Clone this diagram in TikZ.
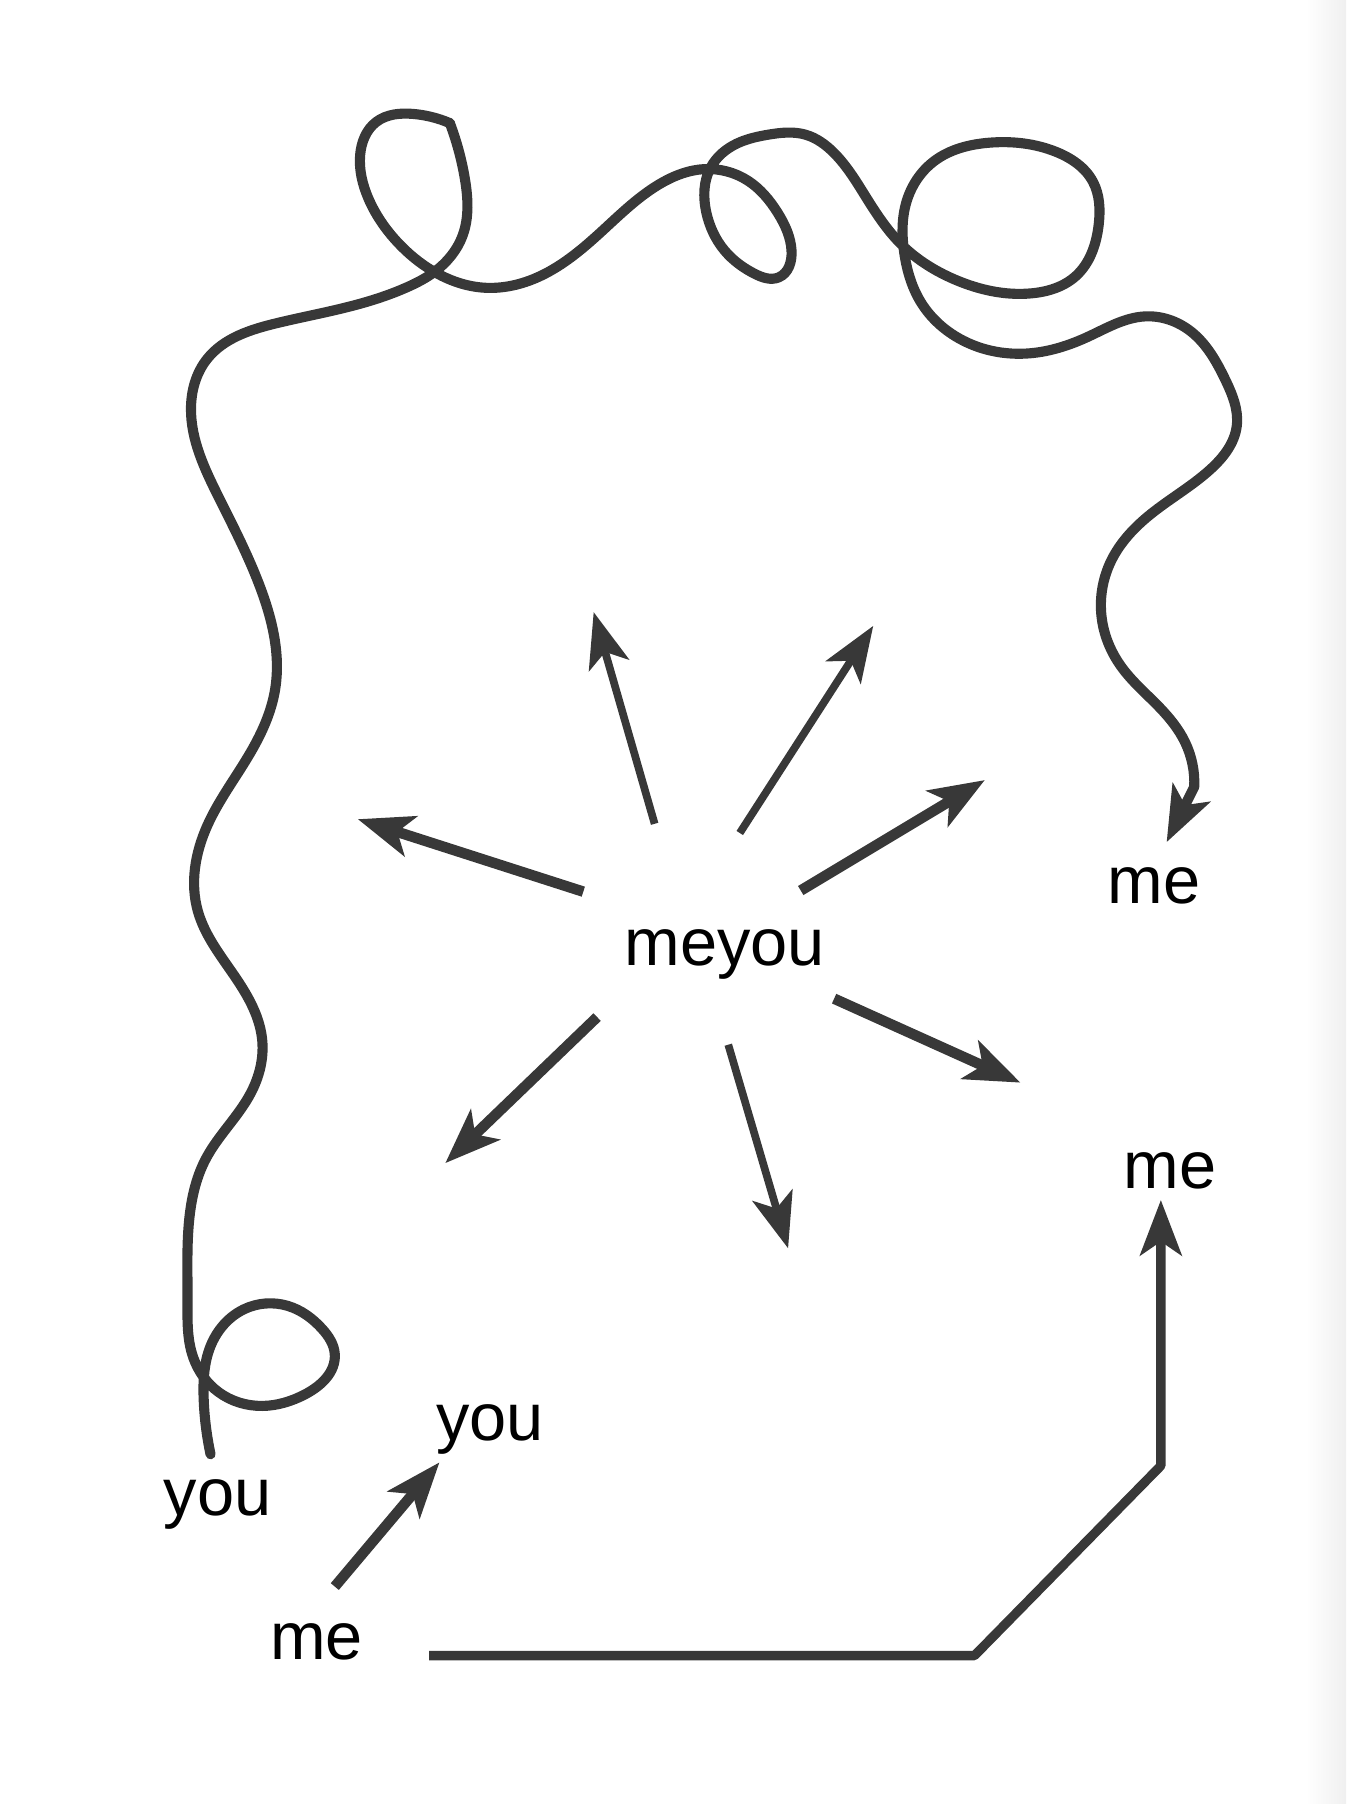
\documentclass[tikz,border=0pt]{standalone}
\usepackage{fontspec}
\setmainfont{Liberation Sans}
\usetikzlibrary{arrows.meta,hobby}

\tikzset{
  ink/.style={draw=black!78, line width=2.3pt, line cap=butt, line join=round},
  spike/.style={-{Stealth[length=0.48cm, width=0.36cm, inset=0.12cm]}},
  word/.style={anchor=base, inner sep=0pt, font=\fontsize{16.5}{20}\selectfont},
}

\begin{document}
\begin{tikzpicture}[x=0.01cm, y=-0.01cm]

\useasboundingbox (0,0) rectangle (1170,1568);
\shade[left color=white, right color=black!6] (1135,0) rectangle (1170,1568);

% labels
\node[word] (meyou) at (630,839) {meyou};
\node[word] (meright) at (1003,785) {me};
\node[word] (melower) at (1017,1033) {me};
\node[word] (youleft) at (189,1317) {you};
\node[word] (youtop) at (426,1252) {you};
\node[word] (mebottom) at (275,1442) {me};

% rays out of the middle
\foreach \i/\tx/\ty/\hx/\hy/\w in {
    1/569/716/516/532/1.9,
    2/643/724/759/544/1.9,
    3/696/774/856/678/2.6,
    4/507/775/311/712/2.6,
    5/725/868/887/941/2.6,
    6/519/884/387/1011/2.6,
    7/633/908/685/1085/1.9} {
    \coordinate (ray\i-s) at (\tx,\ty);
    \coordinate (ray\i-e) at (\hx,\hy);
    \draw[ink, spike, line width=\w pt] (ray\i-s) -- (ray\i-e);
}

% the long tangled line, you -> me
\coordinate (youend) at (183,1264);
\coordinate (cusp) at (391,107);
\coordinate (meend) at (1014,732);
\draw[ink, line width=2.5pt, line cap=round, use Hobby shortcut]
    (youend) .. (177,1215) .. (183,1170) .. (212,1138) .. (250,1135)
    .. (280,1155) .. (291,1177) .. (265,1212) .. (228,1222) .. (190,1210)
    .. (168,1180) .. (163,1130) .. (164,1065) .. (179,1007) .. (218,950)
    .. (228,905) .. (205,850) .. (172,792) .. (180,718) .. (216,657)
    .. (239,600) .. (226,510) .. (190,432) .. (166,355) .. (180,312)
    .. (240,281) .. (313,264) .. (353,250) .. (378,236) .. (402,205)
    .. (404,155) .. (cusp);
\draw[ink, line width=2.5pt, line cap=round, spike, use Hobby shortcut]
    (cusp) .. (359,99) .. (327,106) .. (313,135) .. (320,172)
    .. (345,210) .. (377,236) .. (420,250) .. (465,242) .. (522,202)
    .. (570,162) .. (612,147) .. (650,157) .. (676,185) .. (688,218)
    .. (677,241) .. (656,238) .. (630,218) .. (614,185) .. (618,145)
    .. (640,125) .. (668,117) .. (700,117) .. (725,133) .. (755,175)
    .. (784,213) .. (830,243) .. (896,255) .. (935,240) .. (955,195)
    .. (950,158) .. (918,132) .. (860,124) .. (812,140) .. (788,175)
    .. (786,220) .. (800,262) .. (830,292) .. (896,307) .. (945,293)
    .. (995,275) .. (1035,288) .. (1065,330) .. (1075,370) .. (1052,408)
    .. (1000,447) .. (966,487) .. (958,540) .. (975,580) .. (1008,615)
    .. (1030,645) .. (1038,684) -- (meend);

% me -> you, short
\coordinate (shorts) at (291,1379);
\coordinate (shorte) at (382,1271);
\draw[ink, spike, line width=2.6pt] (shorts) -- (shorte);

% me -> me, bent
\coordinate (bentstart) at (373,1439);
\coordinate (bentknee) at (847,1439);
\coordinate (bentup) at (1009,1274);
\coordinate (bentend) at (1009,1043);
\draw[ink, spike] (bentstart) -- (bentknee) -- (bentup) -- (bentend);

\end{tikzpicture}
\end{document}
